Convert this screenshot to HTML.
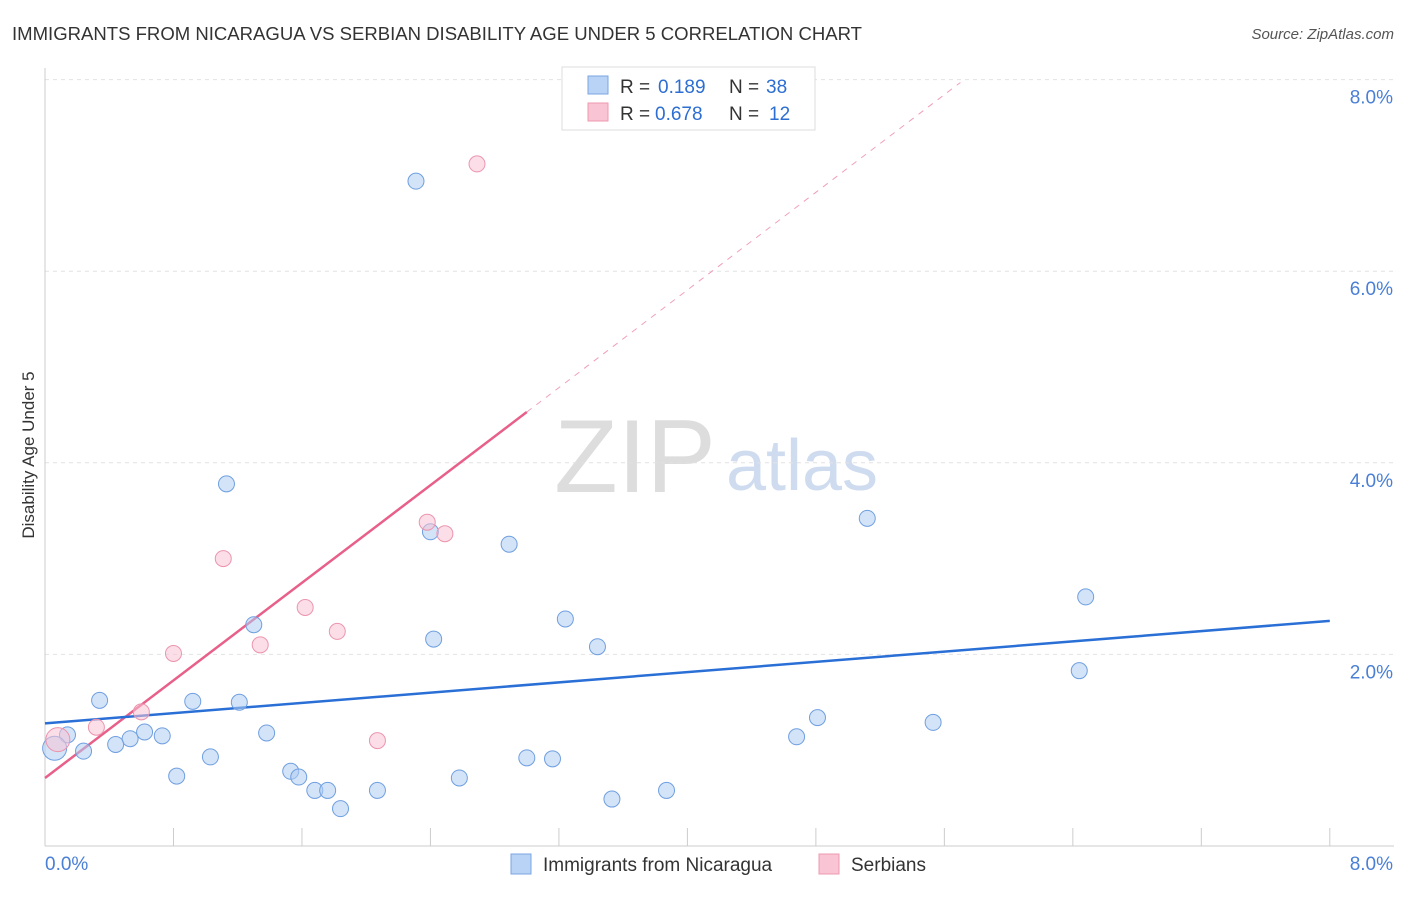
<!DOCTYPE html>
<html><head><meta charset="utf-8"><style>
body{margin:0;background:#fff;font-family:"Liberation Sans",sans-serif;}
svg text{font-family:"Liberation Sans",sans-serif;}
</style></head><body>
<svg id="chart" width="1406" height="892" xmlns="http://www.w3.org/2000/svg">
<text x="12" y="40" font-size="18" fill="#333" textLength="850" lengthAdjust="spacingAndGlyphs">IMMIGRANTS FROM NICARAGUA VS SERBIAN DISABILITY AGE UNDER 5 CORRELATION CHART</text>
<text x="1394" y="39" font-size="15" fill="#555" font-style="italic" text-anchor="end">Source: ZipAtlas.com</text>
<text x="635" y="492" font-size="104" fill="#ddd" font-family="Liberation Serif" text-anchor="middle">ZIP</text>
<text x="802" y="490" font-size="72" fill="#cfdcf0" text-anchor="middle">atlas</text>
<g id="grid"></g><g id="axes"></g><g id="lines"></g><g id="pts"></g>
<text transform="translate(34,455) rotate(-90)" font-size="17" fill="#333" text-anchor="middle">Disability Age Under 5</text>
<g>
<rect x="562" y="67" width="253" height="63" fill="#fff" stroke="#ddd"/>
<rect x="588" y="76" width="20" height="18" fill="#b8d3f5" stroke="#7aa6e0"/>
<rect x="588" y="103" width="20" height="18" fill="#f9c4d3" stroke="#ee99b2"/>
<text x="620" y="93" font-size="19" fill="#333">R =</text>
<text x="658" y="93" font-size="19" fill="#2d6ed2">0.189</text>
<text x="729" y="93" font-size="19" fill="#333">N =</text>
<text x="766" y="93" font-size="19" fill="#2d6ed2">38</text>
<text x="620" y="120" font-size="19" fill="#333">R =</text>
<text x="655" y="120" font-size="19" fill="#2d6ed2">0.678</text>
<text x="729" y="120" font-size="19" fill="#333">N =</text>
<text x="769" y="120" font-size="19" fill="#2d6ed2">12</text>
</g>
<g>
<rect x="511" y="854" width="20" height="20" fill="#b8d3f5" stroke="#7aa6e0"/>
<text x="543" y="871" font-size="19" fill="#333">Immigrants from Nicaragua</text>
<rect x="819" y="854" width="20" height="20" fill="#f9c4d3" stroke="#ee99b2"/>
<text x="851" y="871" font-size="19" fill="#333">Serbians</text>
</g>
</svg>
<script>
const yTicks=[2,4,6,8];
const yTickLabels=["2.0%","4.0%","6.0%","8.0%"];
const xTicks=[0,0.8,1.6,2.4,3.2,4.0,4.8,5.6,6.4,7.2,8.0];
const blueX=[2.31,1.13,2.40,2.89,5.12,6.48,6.44,3.24,3.44,2.42,1.30,0.34,0.92,1.21,1.38,0.62,0.73,0.53,0.44,0.14,0.24,0.06,1.03,0.82,1.53,1.58,1.68,1.76,1.84,2.07,2.58,3.00,3.16,3.53,3.87,4.68,4.81,5.53];
const blueY=[6.94,3.78,3.28,3.15,3.42,2.60,1.83,2.37,2.08,2.16,2.31,1.52,1.51,1.50,1.18,1.19,1.15,1.12,1.06,1.16,0.99,1.02,0.93,0.73,0.78,0.72,0.58,0.58,0.39,0.58,0.71,0.92,0.91,0.49,0.58,1.14,1.34,1.29];
const pinkX=[2.69,1.11,2.38,2.49,1.62,1.82,1.34,0.80,0.60,0.32,2.07,0.08];
const pinkY=[7.12,3.00,3.38,3.26,2.49,2.24,2.10,2.01,1.40,1.24,1.10,1.11];
const blueLine=[[0,1.28],[8,2.35]];
const pinkLine=[[0,0.71],[3.0,4.53]];
const pinkDash=[[3.0,4.53],[5.70,7.97]];
const X=v=>45+v*160.6, Y=v=>846-v*95.8;
const NS="http://www.w3.org/2000/svg";
function mk(t,a,p){const e=document.createElementNS(NS,t);for(const k in a)e.setAttribute(k,a[k]);document.getElementById(p).appendChild(e);return e;}
yTicks.forEach((t,i)=>{
 const g=mk('line',{x1:45,x2:1394,y1:Y(t),y2:Y(t),stroke:'#e2e2e2','stroke-dasharray':'4,4'},'grid');
 
 
 const l=mk('text',{x:1393,y:Y(t)+24,'font-size':19,fill:'#4a7fd6','text-anchor':'end'},'axes');
 l.textContent=yTickLabels[i];
 
 
});
const ax=mk('line',{x1:45,x2:45,y1:68,y2:846,stroke:'#ccc'},'axes');


const bx=mk('line',{x1:45,x2:1394,y1:846,y2:846,stroke:'#ccc'},'axes');


xTicks.forEach(t=>{const e=mk('line',{x1:X(t),x2:X(t),y1:828,y2:846,stroke:'#ccc'},'axes');
 
 });
[[0,"0.0%",'start',45],[8,"8.0%",'end',1393]].forEach(d=>{const e=mk('text',{x:d[3],y:870,'font-size':19,fill:'#4a7fd6','text-anchor':d[2]},'axes');e.textContent=d[1];
 
 });
function ln(p,c,dash,w,name){const e=mk('line',{x1:X(p[0][0]),y1:Y(p[0][1]),x2:X(p[1][0]),y2:Y(p[1][1]),stroke:c,'stroke-width':w},'lines');if(dash)e.setAttribute('stroke-dasharray',dash);
 
 }
ln(pinkDash,'#f0a0b8','6,6',1,'serbian-trend-extension');
ln(pinkLine,'#e8608a',null,2.5,'serbian-trend-line');
ln(blueLine,'#2a6fd6',null,2.5,'nicaragua-trend-line');
blueX.forEach((x,i)=>{const big=i==21;const e=mk('circle',{cx:X(x),cy:Y(blueY[i]),r:big?12:8,fill:'rgba(175,204,242,0.55)',stroke:'#6f9fe0','stroke-width':1},'pts');
 
 });
pinkX.forEach((x,i)=>{const big=i==11;const e=mk('circle',{cx:X(x),cy:Y(pinkY[i]),r:big?12:8,fill:'rgba(248,195,212,0.55)',stroke:'#ec94ae','stroke-width':1},'pts');
 
 });
</script>
</body></html>
